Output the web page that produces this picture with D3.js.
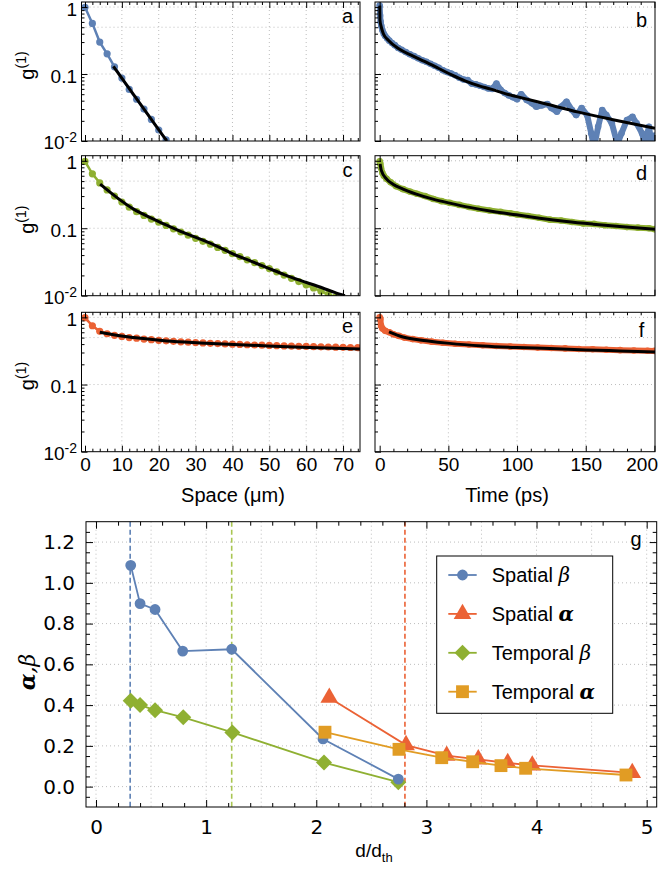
<!DOCTYPE html>
<html>
<head>
<meta charset="utf-8">
<script src="https://cdn.jsdelivr.net/npm/d3@7"></script>
<style>
  body { margin: 0; background: #fff; }
</style>
</head>
<body>
<script>
// ---------------- data ----------------
// a: spatial g1, blue sample
const spaceA_x = [0, 2, 4, 6, 8, 10, 12, 14, 16, 18, 20, 22];
const spaceA_g = [0.99, 0.57, 0.30, 0.20, 0.128, 0.087, 0.059, 0.042, 0.030, 0.021, 0.0146, 0.0104];
const fitA_x = [7.7, 22.2];
const fitA_g = [0.13, 0.01];

// b: temporal g1, blue sample
const timeB_t = [0, 0.3, 0.7, 1.2, 2, 3, 4, 5.5, 7, 9, 11, 13.5, 16, 19, 22, 25, 28, 31, 34, 37, 40, 43, 46, 49, 52, 55, 58, 61, 64, 67, 70, 73, 76, 79, 82, 85, 88, 91, 94, 97, 100, 103, 107, 111, 114, 118, 122, 125, 129, 132, 136, 140, 143, 147, 151, 154, 156, 159, 162, 165, 169, 173, 176, 180, 184, 187, 191, 193, 196, 198, 200];
const timeB_g = [1.05, 0.75, 0.6, 0.52, 0.45, 0.40, 0.37, 0.34, 0.315, 0.29, 0.27, 0.245, 0.23, 0.213, 0.197, 0.185, 0.172, 0.161, 0.152, 0.142, 0.133, 0.124, 0.114, 0.107, 0.102, 0.096, 0.088, 0.083, 0.081, 0.072, 0.070, 0.067, 0.064, 0.061, 0.060, 0.072, 0.058, 0.052, 0.048, 0.045, 0.042, 0.050, 0.041, 0.0365, 0.0325, 0.034, 0.0357, 0.031, 0.0274, 0.0325, 0.0386, 0.029, 0.0244, 0.031, 0.0244, 0.013, 0.008, 0.0163, 0.029, 0.0244, 0.0184, 0.009, 0.013, 0.0206, 0.023, 0.0184, 0.013, 0.009, 0.0163, 0.009, 0.012];
const fitB_t = [0.05, 0.2, 1, 2.7, 6.3, 13.6, 23.3, 33, 42.7, 52.4, 62.1, 71.9, 81.6, 91.3, 99.8, 120.4, 144.7, 169, 200.4];
const fitB_g = [1.05, 0.64, 0.52, 0.40, 0.32, 0.24, 0.19, 0.153, 0.122, 0.097, 0.079, 0.067, 0.059, 0.051, 0.046, 0.036, 0.027, 0.021, 0.0155];

// c: spatial g1, green sample
const spaceC_x = [0, 2, 4, 6, 8, 10, 12, 14, 16, 18, 20, 22, 24, 26, 28, 30, 32, 34, 36, 38, 40, 42, 44, 46, 48, 50, 52, 54, 56, 58, 60, 62, 64, 66, 68, 70];
const spaceC_g = [0.98, 0.64, 0.47, 0.37, 0.30, 0.245, 0.205, 0.176, 0.155, 0.137, 0.123, 0.110, 0.098, 0.088, 0.079, 0.071, 0.064, 0.058, 0.052, 0.047, 0.042, 0.038, 0.034, 0.031, 0.028, 0.0252, 0.0226, 0.0202, 0.0181, 0.0162, 0.0145, 0.0130, 0.0117, 0.0105, 0.0095, 0.0086];
const fitC_x = [4.1, 8.6, 13.2, 17.7, 22.2, 26.8, 31.3, 35.9, 40.4, 45, 49.5, 54, 58.6, 63.1, 67.7, 70.5];
const fitC_g = [0.45, 0.287, 0.192, 0.144, 0.111, 0.086, 0.069, 0.054, 0.041, 0.0325, 0.0259, 0.0206, 0.0167, 0.0138, 0.0112, 0.0100];

// d: temporal g1, green sample
const timeD_t = [0, 0.5, 1, 2, 3, 5, 8, 12, 17, 22, 27, 33, 39, 45, 51, 58, 65, 72, 80, 88, 95, 100, 108, 116, 124, 132, 140, 148, 156, 164, 172, 180, 188, 196, 200];
const timeD_g = [0.98, 0.9, 0.78, 0.66, 0.6, 0.54, 0.48, 0.42, 0.38, 0.35, 0.325, 0.30, 0.272, 0.252, 0.238, 0.222, 0.207, 0.195, 0.183, 0.175, 0.167, 0.160, 0.152, 0.143, 0.134, 0.130, 0.124, 0.118, 0.116, 0.111, 0.108, 0.104, 0.102, 0.100, 0.097];
const fitD_t = [0.3, 1.2, 4.9, 9.7, 17, 26.7, 38.8, 51, 65.5, 82.5, 99.5, 116.5, 136, 155.4, 174.8, 200.4];
const fitD_g = [0.9, 0.72, 0.54, 0.45, 0.38, 0.32, 0.27, 0.236, 0.204, 0.177, 0.158, 0.141, 0.126, 0.115, 0.106, 0.097];

// e: spatial g1, red sample
const spaceE_x = [0, 2, 4, 6, 8, 10, 12, 14, 16, 18, 20, 22, 24, 26, 28, 30, 32, 34, 36, 38, 40, 42, 44, 46, 48, 50, 52, 54, 56, 58, 60, 62, 64, 66, 68, 70, 72, 74];
const spaceE_g = [0.99, 0.75, 0.62, 0.57, 0.54, 0.52, 0.50, 0.49, 0.475, 0.465, 0.455, 0.447, 0.44, 0.433, 0.427, 0.421, 0.416, 0.411, 0.407, 0.403, 0.399, 0.395, 0.391, 0.388, 0.385, 0.382, 0.379, 0.376, 0.374, 0.371, 0.369, 0.366, 0.364, 0.362, 0.360, 0.358, 0.356, 0.354];
const fitE_x = [4, 8.6, 13.2, 22.2, 31.3, 40.4, 49.5, 58.6, 74.6];
const fitE_g = [0.6, 0.54, 0.50, 0.446, 0.417, 0.394, 0.376, 0.36, 0.339];

// f: temporal g1, red sample
const timeF_t = [0, 0.5, 1, 2, 4, 7, 10, 14, 18, 24, 30, 38, 46, 55, 65, 75, 85, 95, 105, 115, 125, 135, 145, 155, 165, 175, 185, 195, 200];
const timeF_g = [1.0, 0.95, 0.75, 0.68, 0.63, 0.60, 0.56, 0.53, 0.50, 0.475, 0.455, 0.435, 0.42, 0.405, 0.395, 0.385, 0.375, 0.368, 0.362, 0.355, 0.35, 0.345, 0.338, 0.335, 0.33, 0.325, 0.322, 0.318, 0.317];
const fitF_t = [6.8, 17, 34, 51, 75, 99.5, 124, 150.5, 175, 200.4];
const fitF_g = [0.61, 0.51, 0.45, 0.41, 0.376, 0.356, 0.344, 0.328, 0.317, 0.306];

// g: exponents vs d/d_th
const spatialBeta_d = [0.315, 0.40, 0.536, 0.787, 1.232, 2.061, 2.745];
const spatialBeta_v = [1.086, 0.898, 0.869, 0.665, 0.674, 0.234, 0.037];
const spatialAlpha_d = [2.118, 2.815, 3.184, 3.471, 3.738, 3.961, 4.869];
const spatialAlpha_v = [0.436, 0.204, 0.152, 0.134, 0.116, 0.104, 0.067];
const temporalBeta_d = [0.315, 0.40, 0.536, 0.792, 1.238, 2.07, 2.745];
const temporalBeta_v = [0.421, 0.40, 0.375, 0.34, 0.266, 0.118, 0.022];
const temporalAlpha_d = [2.079, 2.751, 3.139, 3.42, 3.677, 3.901, 4.812];
const temporalAlpha_v = [0.267, 0.183, 0.142, 0.122, 0.103, 0.09, 0.057];
const threshold_d = [0.31, 1.232, 2.805];

const gYTicks = [0, 0.2, 0.4, 0.6, 0.8, 1.0, 1.2];
const gXTicks = [0, 1, 2, 3, 4, 5];
const g1Ticks = [1, 0.1, 0.01];
const spaceTicks = [0, 10, 20, 30, 40, 50, 60, 70];
const timeTicks = [0, 50, 100, 150, 200];

// ---------------- drawing ----------------
const W = 661, H = 869;
const SANS = "'Liberation Sans', Arial, Helvetica, sans-serif";
const DEJAVU = "'DejaVu Sans', Verdana, sans-serif";
const COL = { blue: "#5e81b5", red: "#eb6235", green: "#8fb032", orange: "#e19c24" };
const GRID = "#bdbdbd";

const svg = d3.select("body").append("svg")
  .attr("width", W).attr("height", H)
  .style("font-family", SANS);

const colX = [[81.5, 360], [375, 655]];
const rowY = [[2, 141], [155.7, 295.7], [312.3, 451.7]];
const spaceDomain = [-0.95, 74.6];
const timeDomain = [-3.4, 200.4];

let clipId = 0;
function pairs(xs, ys) { return xs.map((v, i) => [v, ys[i]]); }

function range(a, b, step) {
  const out = [];
  for (let v = a; v <= b + 1e-9; v += step) out.push(+v.toFixed(6));
  return out;
}

function g1Panel(cfg) {
  const [x0, x1] = colX[cfg.col];
  const [y0, y1] = rowY[cfg.row];
  const isSpace = cfg.col === 0;
  const x = d3.scaleLinear().domain(isSpace ? spaceDomain : timeDomain).range([x0, x1]);
  const y = d3.scaleLog().domain([0.01, 1.19]).range([y1, y0]);
  const g = svg.append("g");

  // grid
  const xGrid = isSpace ? [10, 20, 30, 40, 50, 60, 70] : [50, 100, 150];
  const yGrid = [1, 0.5, 0.1];
  g.append("g").selectAll("line").data(xGrid).join("line")
    .attr("x1", d => x(d)).attr("x2", d => x(d)).attr("y1", y0).attr("y2", y1)
    .attr("stroke", GRID).attr("stroke-width", 1).attr("stroke-dasharray", "1,3");
  g.append("g").selectAll("line").data(yGrid).join("line")
    .attr("x1", x0).attr("x2", x1).attr("y1", d => y(d)).attr("y2", d => y(d))
    .attr("stroke", GRID).attr("stroke-width", 1).attr("stroke-dasharray", "1,3");

  // clip
  const id = "clip" + (clipId++);
  svg.append("clipPath").attr("id", id).append("rect")
    .attr("x", x0).attr("y", y0).attr("width", x1 - x0).attr("height", y1 - y0);
  const plot = g.append("g").attr("clip-path", `url(#${id})`);

  const line = d3.line().x(d => x(d[0])).y(d => y(d[1]));
  const data = pairs(cfg.xs, cfg.ys);
  if (cfg.band) {
    plot.append("path").datum(data)
      .attr("d", line.curve(d3.curveLinear))
      .attr("fill", "none").attr("stroke", cfg.color).attr("stroke-width", 6)
      .attr("stroke-linejoin", "round").attr("stroke-linecap", "round");
    plot.append("g").selectAll("circle").data(data).join("circle")
      .attr("cx", d => x(d[0])).attr("cy", d => y(d[1])).attr("r", 3.3)
      .attr("fill", cfg.color);
  } else {
    plot.append("path").datum(data)
      .attr("d", line.curve(d3.curveLinear))
      .attr("fill", "none").attr("stroke", cfg.color).attr("stroke-width", 2.5);
    plot.append("g").selectAll("circle").data(data).join("circle")
      .attr("cx", d => x(d[0])).attr("cy", d => y(d[1])).attr("r", 3.6)
      .attr("fill", cfg.color);
  }
  const fitLine = d3.line().x(d => x(d[0])).y(d => y(d[1])).curve(d3.curveMonotoneX);
  plot.append("path").datum(pairs(cfg.fx, cfg.fy))
    .attr("d", fitLine)
    .attr("fill", "none").attr("stroke", "#000").attr("stroke-width", 3)
    .attr("stroke-linecap", "butt");

  // ticks
  const xMajor = isSpace ? spaceTicks : timeTicks;
  const xMinor = (isSpace ? range(0, 74, 2) : range(0, 200, 10)).filter(v => !xMajor.includes(v));
  const yMinor = [];
  [0.01, 0.1].forEach(dec => { for (let k = 2; k <= 9; k++) yMinor.push(+(dec * k).toFixed(4)); });

  const showX = cfg.row === 2;
  const bottom = g.append("g").attr("transform", `translate(0,${y1})`)
    .call(d3.axisBottom(x).tickValues(xMajor).tickSizeInner(-6).tickSizeOuter(0).tickPadding(6)
      .tickFormat(showX ? d3.format("d") : () => ""));
  bottom.attr("font-size", 19).attr("font-family", SANS);
  bottom.select(".domain").remove();
  if (showX && !isSpace) {
    bottom.selectAll(".tick").filter(d => d === 200).select("text")
      .attr("text-anchor", "end").attr("x", 3);
  }
  g.append("g").attr("transform", `translate(0,${y1})`)
    .call(d3.axisBottom(x).tickValues(xMinor).tickSizeInner(-3).tickSizeOuter(0).tickFormat(() => ""))
    .select(".domain").remove();
  g.append("g").attr("transform", `translate(0,${y0})`)
    .call(d3.axisTop(x).tickValues(xMajor).tickSizeInner(-6).tickSizeOuter(0).tickFormat(() => ""))
    .select(".domain").remove();
  g.append("g").attr("transform", `translate(0,${y0})`)
    .call(d3.axisTop(x).tickValues(xMinor).tickSizeInner(-3).tickSizeOuter(0).tickFormat(() => ""))
    .select(".domain").remove();

  const left = g.append("g").attr("transform", `translate(${x0},0)`)
    .call(d3.axisLeft(y).tickValues(g1Ticks).tickSizeInner(-6).tickSizeOuter(0).tickPadding(4.5)
      .tickFormat(() => ""));
  left.select(".domain").remove();
  left.attr("font-size", 19).attr("font-family", SANS);
  if (isSpace) {
    left.selectAll(".tick text").attr("dy", "0.42em").each(function (d) {
      const t = d3.select(this);
      if (d === 1) t.text("1");
      else if (d === 0.1) t.text("0.1");
      else {
        t.text("");
        t.append("tspan").text("10");
        t.append("tspan").attr("dy", -7).attr("font-size", 14).text("-2");
      }
    });
  }
  g.append("g").attr("transform", `translate(${x0},0)`)
    .call(d3.axisLeft(y).tickValues(yMinor).tickSizeInner(-3).tickSizeOuter(0).tickFormat(() => ""))
    .select(".domain").remove();

  // frame
  g.append("rect").attr("x", x0).attr("y", y0).attr("width", x1 - x0).attr("height", y1 - y0)
    .attr("fill", "none").attr("stroke", "#000").attr("stroke-width", 1);

  // panel letter
  g.append("text")
    .attr("x", isSpace ? 347.5 : 641.5)
    .attr("y", y0 + (isSpace ? 21 : 24.5))
    .attr("text-anchor", "middle").attr("font-size", 20).text(cfg.letter);

  // y title
  if (isSpace) {
    const cy = (y0 + y1) / 2 - 6;
    const t = g.append("text").attr("transform", `translate(34,${cy}) rotate(-90)`)
      .attr("text-anchor", "middle").attr("font-size", 20);
    t.append("tspan").text("g");
    t.append("tspan").attr("dy", -8).attr("font-size", 14).text("(1)");
  }
}

g1Panel({ row: 0, col: 0, letter: "a", color: COL.blue, xs: spaceA_x, ys: spaceA_g, fx: fitA_x, fy: fitA_g });
g1Panel({ row: 0, col: 1, letter: "b", color: COL.blue, band: true, xs: timeB_t, ys: timeB_g, fx: fitB_t, fy: fitB_g });
g1Panel({ row: 1, col: 0, letter: "c", color: COL.green, xs: spaceC_x, ys: spaceC_g, fx: fitC_x, fy: fitC_g });
g1Panel({ row: 1, col: 1, letter: "d", color: COL.green, band: true, xs: timeD_t, ys: timeD_g, fx: fitD_t, fy: fitD_g });
g1Panel({ row: 2, col: 0, letter: "e", color: COL.red, xs: spaceE_x, ys: spaceE_g, fx: fitE_x, fy: fitE_g });
g1Panel({ row: 2, col: 1, letter: "f", color: COL.red, band: true, xs: timeF_t, ys: timeF_g, fx: fitF_t, fy: fitF_g });

svg.append("text").attr("x", 233).attr("y", 502).attr("text-anchor", "middle")
  .attr("font-size", 20).text("Space (μm)");
svg.append("text").attr("x", 507).attr("y", 502).attr("text-anchor", "middle")
  .attr("font-size", 20).text("Time (ps)");

// ---------------- panel g ----------------
(function () {
  const x0 = 86, x1 = 656.7, y0 = 521.7, y1 = 807;
  const x = d3.scaleLinear().domain([-0.091, 5.091]).range([x0, x1]);
  const y = d3.scaleLinear().domain([-0.1, 1.3]).range([y1, y0]);
  const g = svg.append("g");

  // grid
  g.append("g").selectAll("line").data(range(0, 5, 0.5)).join("line")
    .attr("x1", d => x(d)).attr("x2", d => x(d)).attr("y1", y0).attr("y2", y1)
    .attr("stroke", GRID).attr("stroke-dasharray", "1,3");
  g.append("g").selectAll("line").data(gYTicks).join("line")
    .attr("x1", x0).attr("x2", x1).attr("y1", d => y(d)).attr("y2", d => y(d))
    .attr("stroke", GRID).attr("stroke-dasharray", "1,3");

  // threshold markers
  const thrColors = [COL.blue, "#a9c653", COL.red];
  g.append("g").selectAll("line").data(threshold_d).join("line")
    .attr("x1", d => x(d)).attr("x2", d => x(d)).attr("y1", y0).attr("y2", y1)
    .attr("stroke", (d, i) => thrColors[i]).attr("stroke-width", 1.6)
    .attr("stroke-dasharray", "5,3");

  const symbols = {
    circle: d3.symbol().type(d3.symbolCircle).size(92),
    triangle: d3.symbol().type(d3.symbolTriangle).size(135),
    diamond: d3.symbol().type(d3.symbolSquare).size(128),
    square: d3.symbol().type(d3.symbolSquare).size(165)
  };

  const series = [
    { name: "Temporal β", d: temporalBeta_d, v: temporalBeta_v, color: COL.green, shape: "diamond" },
    { name: "Spatial β", d: spatialBeta_d, v: spatialBeta_v, color: COL.blue, shape: "circle" },
    { name: "Spatial α", d: spatialAlpha_d, v: spatialAlpha_v, color: COL.red, shape: "triangle" },
    { name: "Temporal α", d: temporalAlpha_d, v: temporalAlpha_v, color: COL.orange, shape: "square" }
  ];
  const line = d3.line().x(d => x(d[0])).y(d => y(d[1]));
  series.forEach(s => {
    const pts = pairs(s.d, s.v);
    g.append("path").datum(pts).attr("d", line)
      .attr("fill", "none").attr("stroke", s.color).attr("stroke-width", 1.8);
    g.append("g").selectAll("path").data(pts).join("path")
      .attr("d", symbols[s.shape])
      .attr("transform", d => `translate(${x(d[0])},${y(d[1])})` + (s.shape === "diamond" ? " rotate(45)" : ""))
      .attr("fill", s.color);
  });

  // ticks on all four sides
  const xMinor = range(-0.0, 5, 0.2).filter(v => !gXTicks.includes(v));
  const yMinor = range(-0.05, 1.25, 0.05).filter(v => !gYTicks.some(t => Math.abs(t - v) < 1e-6));
  const bottom = g.append("g").attr("transform", `translate(0,${y1})`)
    .call(d3.axisBottom(x).tickValues(gXTicks).tickSizeInner(-7).tickSizeOuter(0).tickPadding(13)
      .tickFormat(d3.format("d")));
  bottom.attr("font-size", 20).attr("font-family", DEJAVU);
  bottom.select(".domain").remove();
  g.append("g").attr("transform", `translate(0,${y1})`)
    .call(d3.axisBottom(x).tickValues(xMinor).tickSizeInner(-4).tickSizeOuter(0).tickFormat(() => ""))
    .select(".domain").remove();
  g.append("g").attr("transform", `translate(0,${y0})`)
    .call(d3.axisTop(x).tickValues(gXTicks).tickSizeInner(-7).tickSizeOuter(0).tickFormat(() => ""))
    .select(".domain").remove();
  g.append("g").attr("transform", `translate(0,${y0})`)
    .call(d3.axisTop(x).tickValues(xMinor).tickSizeInner(-4).tickSizeOuter(0).tickFormat(() => ""))
    .select(".domain").remove();

  const left = g.append("g").attr("transform", `translate(${x0},0)`)
    .call(d3.axisLeft(y).tickValues(gYTicks).tickSizeInner(-7).tickSizeOuter(0).tickPadding(11)
      .tickFormat(d3.format(".1f")));
  left.attr("font-size", 20).attr("font-family", DEJAVU);
  left.select(".domain").remove();
  g.append("g").attr("transform", `translate(${x0},0)`)
    .call(d3.axisLeft(y).tickValues(yMinor).tickSizeInner(-4).tickSizeOuter(0).tickFormat(() => ""))
    .select(".domain").remove();
  g.append("g").attr("transform", `translate(${x1},0)`)
    .call(d3.axisRight(y).tickValues(gYTicks).tickSizeInner(-7).tickSizeOuter(0).tickFormat(() => ""))
    .select(".domain").remove();
  g.append("g").attr("transform", `translate(${x1},0)`)
    .call(d3.axisRight(y).tickValues(yMinor).tickSizeInner(-4).tickSizeOuter(0).tickFormat(() => ""))
    .select(".domain").remove();

  g.append("rect").attr("x", x0).attr("y", y0).attr("width", x1 - x0).attr("height", y1 - y0)
    .attr("fill", "none").attr("stroke", "#000").attr("stroke-width", 1);

  g.append("text").attr("x", 636).attr("y", 545.5).attr("text-anchor", "middle")
    .attr("font-size", 20).text("g");

  // legend
  const lg = g.append("g");
  lg.append("rect").attr("x", 436.7).attr("y", 556).attr("width", 176).attr("height", 157.3)
    .attr("fill", "#fff").attr("stroke", "#000").attr("stroke-width", 1);
  const legendOrder = [series[1], series[2], series[0], series[3]];
  legendOrder.forEach((s, i) => {
    const cy = 575 + i * 38.9;
    lg.append("line").attr("x1", 448.3).attr("x2", 476.7).attr("y1", cy).attr("y2", cy)
      .attr("stroke", s.color).attr("stroke-width", 1.8);
    lg.append("path").attr("d", symbols[s.shape])
      .attr("transform", `translate(462.5,${cy})` + (s.shape === "diamond" ? " rotate(45)" : ""))
      .attr("fill", s.color);
    const parts = s.name.split(" ");
    const t = lg.append("text").attr("x", 491.7).attr("y", cy + 6.8).attr("font-size", 20);
    t.append("tspan").text(parts[0] + " ");
    const greek = parts[1];
    t.append("tspan").attr("font-style", "italic")
      .attr("font-weight", greek === "α" ? "bold" : "normal")
      .attr("font-family", "'DejaVu Serif', serif").text(greek);
  });

  // axis titles
  const yt = svg.append("text").attr("transform", "translate(35,672) rotate(-90)")
    .attr("text-anchor", "middle").attr("font-size", 22)
    .attr("font-family", "'DejaVu Serif', serif").attr("font-style", "italic");
  yt.append("tspan").attr("font-weight", "bold").text("α");
  yt.append("tspan").text(",");
  yt.append("tspan").text("β");

  const xt = svg.append("text").attr("x", 374).attr("y", 857).attr("text-anchor", "middle")
    .attr("font-size", 19);
  xt.append("tspan").text("d/d");
  xt.append("tspan").attr("dy", 5).attr("font-size", 13).text("th");
})();
</script>
</body>
</html>
